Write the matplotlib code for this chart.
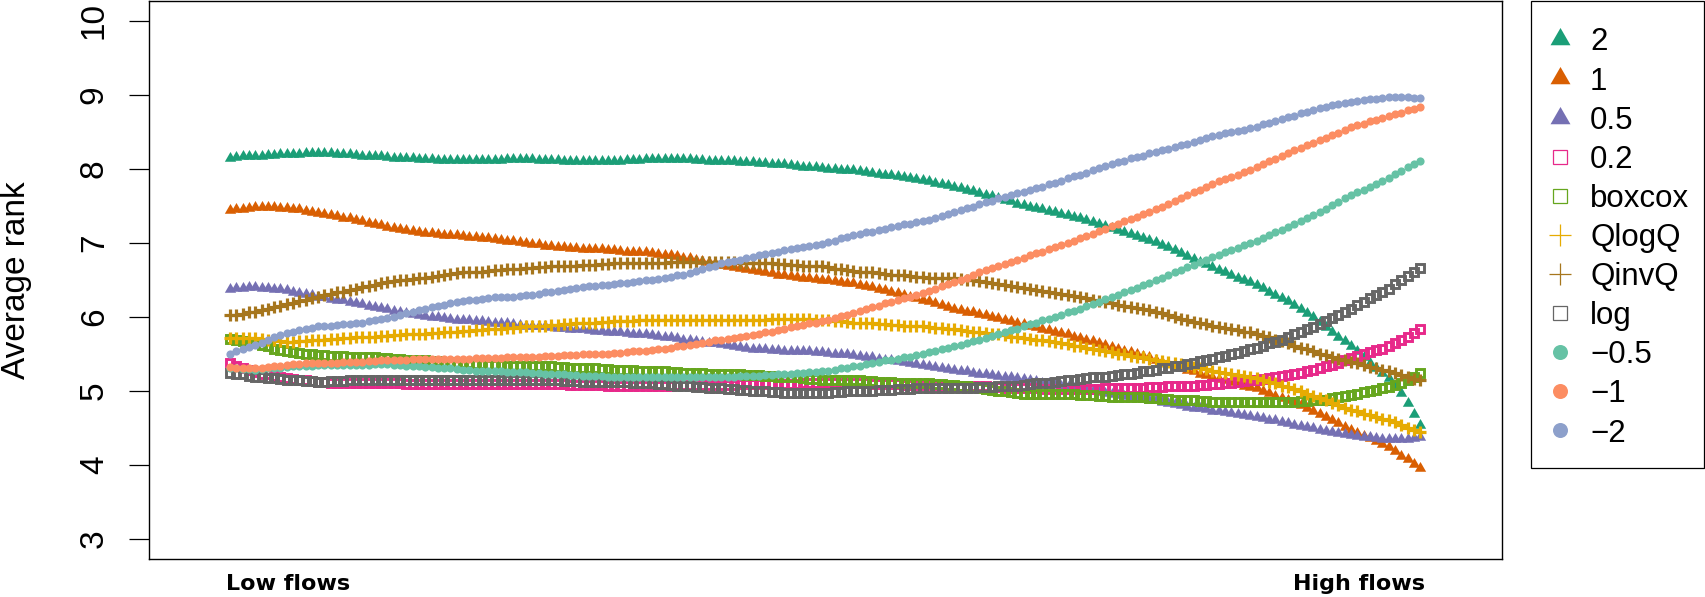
import numpy as np
import matplotlib
matplotlib.use("Agg")
import matplotlib.pyplot as plt
from matplotlib.lines import Line2D
from matplotlib.patches import Rectangle

# average rank of each transformation along the flow range
# (index 0 = low flows ... last index = high flows)
rank_2 = [
    8.15, 8.16, 8.17, 8.17, 8.18, 8.18, 8.19, 8.19, 8.20, 8.20,
    8.20, 8.20, 8.21, 8.21, 8.21, 8.21, 8.21, 8.20, 8.20, 8.20, 8.19,
    8.18, 8.18, 8.17, 8.17, 8.16, 8.15, 8.15, 8.14, 8.14, 8.13,
    8.13, 8.13, 8.12, 8.12, 8.12, 8.12, 8.12, 8.12, 8.12, 8.12, 8.12,
    8.12, 8.12, 8.13, 8.13, 8.13, 8.13, 8.13, 8.12, 8.12, 8.12,
    8.12, 8.11, 8.11, 8.11, 8.10, 8.10, 8.10, 8.10, 8.11, 8.11, 8.11,
    8.12, 8.12, 8.12, 8.13, 8.13, 8.13, 8.13, 8.13, 8.13, 8.13, 8.13,
    8.12, 8.12, 8.11, 8.11, 8.10, 8.10, 8.10, 8.09, 8.09, 8.09,
    8.08, 8.08, 8.07, 8.07, 8.06, 8.05, 8.04, 8.03, 8.03, 8.02, 8.01,
    8.00, 8.00, 7.99, 7.98, 7.98, 7.97, 7.96, 7.95, 7.93, 7.92,
    7.91, 7.90, 7.89, 7.87, 7.86, 7.85, 7.83, 7.81, 7.80, 7.78, 7.76,
    7.74, 7.72, 7.70, 7.67, 7.65, 7.63, 7.60, 7.58, 7.56, 7.53, 7.51,
    7.49, 7.47, 7.45, 7.43, 7.41, 7.39, 7.37, 7.35, 7.33, 7.31,
    7.28, 7.25, 7.23, 7.20, 7.17, 7.14, 7.12, 7.09, 7.06, 7.04, 7.01,
    6.97, 6.94, 6.90, 6.86, 6.82, 6.78, 6.74, 6.71, 6.67, 6.63,
    6.60, 6.57, 6.53, 6.50, 6.47, 6.43, 6.39, 6.34, 6.30, 6.25, 6.21,
    6.16, 6.10, 6.05, 5.99, 5.93, 5.86, 5.80, 5.73, 5.67, 5.60,
    5.53, 5.45, 5.38, 5.31, 5.24, 5.17, 5.07, 4.97, 4.83, 4.69, 4.54,
]
rank_1 = [
    7.44, 7.45, 7.46, 7.47, 7.48, 7.48, 7.48, 7.48, 7.47, 7.47,
    7.46, 7.45, 7.43, 7.42, 7.40, 7.39, 7.37, 7.36, 7.34, 7.33, 7.31,
    7.29, 7.27, 7.26, 7.24, 7.22, 7.20, 7.19, 7.17, 7.16, 7.14,
    7.13, 7.13, 7.12, 7.11, 7.11, 7.10, 7.09, 7.08, 7.08, 7.07, 7.06,
    7.05, 7.04, 7.03, 7.02, 7.01, 7.00, 6.99, 6.98, 6.96, 6.95,
    6.94, 6.94, 6.93, 6.93, 6.92, 6.92, 6.91, 6.91, 6.90, 6.90, 6.89,
    6.88, 6.88, 6.87, 6.87, 6.86, 6.85, 6.84, 6.83, 6.82, 6.80, 6.79,
    6.77, 6.75, 6.74, 6.72, 6.70, 6.69, 6.67, 6.66, 6.64, 6.63,
    6.62, 6.60, 6.59, 6.57, 6.56, 6.55, 6.54, 6.53, 6.52, 6.51, 6.50,
    6.49, 6.48, 6.47, 6.46, 6.45, 6.43, 6.41, 6.40, 6.38, 6.36,
    6.34, 6.32, 6.30, 6.27, 6.25, 6.23, 6.21, 6.18, 6.16, 6.13, 6.11,
    6.09, 6.07, 6.06, 6.04, 6.02, 6.00, 5.98, 5.96, 5.94, 5.92, 5.90,
    5.88, 5.86, 5.84, 5.82, 5.80, 5.78, 5.76, 5.73, 5.71, 5.69,
    5.67, 5.64, 5.62, 5.59, 5.57, 5.54, 5.52, 5.50, 5.47, 5.45, 5.42,
    5.39, 5.36, 5.34, 5.31, 5.28, 5.26, 5.23, 5.21, 5.18, 5.16,
    5.14, 5.12, 5.09, 5.07, 5.05, 5.03, 5.00, 4.97, 4.93, 4.90, 4.87,
    4.83, 4.80, 4.76, 4.73, 4.69, 4.65, 4.60, 4.56, 4.51, 4.47,
    4.43, 4.39, 4.36, 4.32, 4.28, 4.24, 4.18, 4.12, 4.07, 4.01, 3.95,
]
rank_05 = [
    6.38, 6.39, 6.39, 6.40, 6.40, 6.39, 6.39, 6.38, 6.37, 6.36,
    6.34, 6.32, 6.31, 6.29, 6.27, 6.26, 6.24, 6.23, 6.22, 6.20, 6.19,
    6.17, 6.15, 6.13, 6.12, 6.10, 6.08, 6.07, 6.05, 6.04, 6.02,
    6.01, 6.00, 5.99, 5.98, 5.97, 5.96, 5.95, 5.95, 5.94, 5.94, 5.93,
    5.92, 5.91, 5.91, 5.90, 5.89, 5.88, 5.88, 5.87, 5.87, 5.86,
    5.85, 5.85, 5.84, 5.83, 5.83, 5.82, 5.81, 5.81, 5.80, 5.80, 5.79,
    5.78, 5.77, 5.77, 5.76, 5.75, 5.74, 5.73, 5.72, 5.71, 5.69, 5.68,
    5.67, 5.66, 5.65, 5.64, 5.63, 5.62, 5.61, 5.59, 5.58, 5.57,
    5.56, 5.56, 5.55, 5.55, 5.54, 5.54, 5.53, 5.53, 5.53, 5.52, 5.52,
    5.51, 5.50, 5.50, 5.49, 5.48, 5.47, 5.46, 5.45, 5.43, 5.42,
    5.41, 5.40, 5.39, 5.37, 5.36, 5.35, 5.34, 5.32, 5.31, 5.29, 5.28,
    5.27, 5.26, 5.24, 5.23, 5.22, 5.21, 5.20, 5.19, 5.18, 5.17, 5.16,
    5.14, 5.13, 5.11, 5.10, 5.08, 5.07, 5.05, 5.04, 5.02, 5.01,
    5.00, 4.98, 4.97, 4.95, 4.94, 4.93, 4.92, 4.91, 4.89, 4.88, 4.87,
    4.85, 4.83, 4.82, 4.80, 4.78, 4.77, 4.76, 4.75, 4.73, 4.72,
    4.71, 4.70, 4.69, 4.67, 4.66, 4.65, 4.63, 4.61, 4.60, 4.58, 4.56,
    4.54, 4.52, 4.51, 4.49, 4.47, 4.46, 4.44, 4.43, 4.41, 4.40,
    4.39, 4.38, 4.37, 4.36, 4.35, 4.34, 4.34, 4.34, 4.35, 4.36, 4.37,
]
rank_02 = [
    5.37, 5.34, 5.31, 5.28, 5.25, 5.23, 5.22, 5.20, 5.19, 5.17,
    5.16, 5.15, 5.14, 5.13, 5.12, 5.12, 5.11, 5.11, 5.11, 5.10, 5.10,
    5.10, 5.10, 5.10, 5.10, 5.10, 5.10, 5.10, 5.09, 5.09, 5.09,
    5.09, 5.09, 5.09, 5.09, 5.09, 5.09, 5.09, 5.09, 5.09, 5.09, 5.09,
    5.09, 5.09, 5.09, 5.09, 5.09, 5.09, 5.09, 5.09, 5.09, 5.09,
    5.09, 5.09, 5.08, 5.08, 5.08, 5.08, 5.08, 5.08, 5.07, 5.07, 5.07,
    5.07, 5.07, 5.07, 5.07, 5.07, 5.07, 5.07, 5.07, 5.08, 5.08, 5.08,
    5.08, 5.08, 5.08, 5.08, 5.08, 5.08, 5.08, 5.09, 5.09, 5.09,
    5.09, 5.09, 5.09, 5.09, 5.09, 5.09, 5.09, 5.10, 5.10, 5.10, 5.10,
    5.10, 5.10, 5.10, 5.10, 5.10, 5.10, 5.10, 5.09, 5.09, 5.09,
    5.09, 5.09, 5.08, 5.08, 5.08, 5.08, 5.08, 5.08, 5.07, 5.07, 5.07,
    5.07, 5.07, 5.06, 5.06, 5.06, 5.05, 5.05, 5.04, 5.04, 5.03, 5.03,
    5.03, 5.03, 5.02, 5.02, 5.02, 5.02, 5.02, 5.02, 5.02, 5.02,
    5.02, 5.02, 5.03, 5.03, 5.03, 5.03, 5.04, 5.04, 5.04, 5.05, 5.05,
    5.05, 5.06, 5.06, 5.07, 5.07, 5.07, 5.08, 5.08, 5.09, 5.09,
    5.10, 5.11, 5.12, 5.13, 5.14, 5.15, 5.16, 5.17, 5.18, 5.20, 5.21,
    5.23, 5.24, 5.26, 5.28, 5.30, 5.33, 5.35, 5.38, 5.41, 5.44,
    5.47, 5.49, 5.52, 5.55, 5.57, 5.60, 5.64, 5.69, 5.73, 5.78, 5.83,
]
rank_boxcox = [
    5.70, 5.69, 5.67, 5.66, 5.64, 5.62, 5.60, 5.57, 5.55, 5.53,
    5.52, 5.51, 5.50, 5.49, 5.48, 5.48, 5.47, 5.47, 5.47, 5.46, 5.46,
    5.46, 5.45, 5.45, 5.44, 5.44, 5.43, 5.43, 5.42, 5.42, 5.41,
    5.41, 5.40, 5.40, 5.39, 5.39, 5.38, 5.37, 5.37, 5.36, 5.36, 5.35,
    5.35, 5.35, 5.34, 5.34, 5.34, 5.34, 5.34, 5.33, 5.33, 5.33,
    5.32, 5.32, 5.31, 5.31, 5.30, 5.30, 5.30, 5.29, 5.29, 5.28, 5.28,
    5.28, 5.28, 5.27, 5.27, 5.27, 5.26, 5.26, 5.25, 5.25, 5.24, 5.24,
    5.24, 5.24, 5.23, 5.23, 5.23, 5.23, 5.22, 5.22, 5.21, 5.21,
    5.21, 5.20, 5.20, 5.19, 5.19, 5.18, 5.18, 5.17, 5.16, 5.16, 5.15,
    5.15, 5.15, 5.14, 5.14, 5.14, 5.14, 5.13, 5.13, 5.12, 5.12,
    5.12, 5.11, 5.11, 5.11, 5.10, 5.10, 5.10, 5.09, 5.09, 5.08, 5.08,
    5.07, 5.06, 5.05, 5.03, 5.02, 5.01, 5.00, 4.99, 4.98, 4.97, 4.96,
    4.96, 4.96, 4.96, 4.96, 4.96, 4.96, 4.95, 4.95, 4.94, 4.94,
    4.94, 4.93, 4.93, 4.92, 4.92, 4.92, 4.91, 4.91, 4.91, 4.90, 4.90,
    4.89, 4.89, 4.88, 4.88, 4.87, 4.87, 4.86, 4.86, 4.85, 4.85,
    4.85, 4.85, 4.85, 4.85, 4.85, 4.85, 4.85, 4.85, 4.85, 4.85, 4.85,
    4.85, 4.86, 4.86, 4.87, 4.87, 4.88, 4.90, 4.91, 4.93, 4.94,
    4.96, 4.98, 4.99, 5.01, 5.03, 5.05, 5.08, 5.11, 5.15, 5.19, 5.24,
]
rank_qlogq = [
    5.71, 5.71, 5.71, 5.71, 5.71, 5.70, 5.69, 5.68, 5.67, 5.66,
    5.66, 5.67, 5.67, 5.68, 5.68, 5.69, 5.70, 5.70, 5.71, 5.71, 5.72,
    5.72, 5.73, 5.73, 5.74, 5.74, 5.75, 5.75, 5.76, 5.76, 5.77,
    5.77, 5.78, 5.78, 5.79, 5.79, 5.80, 5.81, 5.81, 5.82, 5.82, 5.83,
    5.84, 5.84, 5.85, 5.85, 5.86, 5.87, 5.87, 5.88, 5.88, 5.89,
    5.89, 5.90, 5.90, 5.91, 5.91, 5.92, 5.92, 5.93, 5.93, 5.94, 5.94,
    5.94, 5.94, 5.95, 5.95, 5.95, 5.95, 5.95, 5.95, 5.96, 5.96, 5.96,
    5.96, 5.96, 5.96, 5.96, 5.96, 5.96, 5.96, 5.96, 5.96, 5.96,
    5.96, 5.96, 5.97, 5.97, 5.97, 5.97, 5.97, 5.97, 5.97, 5.96, 5.96,
    5.95, 5.94, 5.94, 5.93, 5.92, 5.92, 5.91, 5.91, 5.90, 5.90,
    5.89, 5.89, 5.88, 5.88, 5.87, 5.87, 5.86, 5.85, 5.85, 5.84, 5.83,
    5.82, 5.81, 5.80, 5.79, 5.78, 5.77, 5.76, 5.75, 5.73, 5.72, 5.71,
    5.70, 5.69, 5.68, 5.67, 5.66, 5.64, 5.63, 5.61, 5.60, 5.58,
    5.56, 5.55, 5.53, 5.52, 5.50, 5.49, 5.47, 5.46, 5.45, 5.43, 5.42,
    5.40, 5.39, 5.37, 5.36, 5.34, 5.32, 5.30, 5.29, 5.27, 5.25,
    5.24, 5.22, 5.21, 5.20, 5.18, 5.17, 5.15, 5.12, 5.10, 5.07, 5.05,
    5.02, 4.99, 4.96, 4.93, 4.90, 4.87, 4.84, 4.80, 4.77, 4.74,
    4.72, 4.69, 4.67, 4.65, 4.62, 4.60, 4.57, 4.54, 4.50, 4.47, 4.44,
]
rank_qinvq = [
    6.02, 6.03, 6.04, 6.06, 6.07, 6.09, 6.11, 6.13, 6.15, 6.17,
    6.19, 6.21, 6.23, 6.25, 6.27, 6.29, 6.31, 6.33, 6.34, 6.36, 6.38,
    6.40, 6.42, 6.43, 6.45, 6.47, 6.48, 6.49, 6.50, 6.51, 6.52,
    6.53, 6.54, 6.55, 6.57, 6.58, 6.59, 6.60, 6.60, 6.61, 6.61, 6.62,
    6.63, 6.63, 6.64, 6.64, 6.65, 6.66, 6.66, 6.67, 6.67, 6.68,
    6.68, 6.69, 6.69, 6.69, 6.70, 6.70, 6.70, 6.71, 6.71, 6.72, 6.72,
    6.72, 6.72, 6.73, 6.73, 6.73, 6.73, 6.73, 6.74, 6.74, 6.74, 6.74,
    6.74, 6.74, 6.74, 6.74, 6.74, 6.74, 6.74, 6.73, 6.73, 6.73,
    6.73, 6.72, 6.72, 6.71, 6.71, 6.70, 6.70, 6.69, 6.69, 6.68, 6.68,
    6.67, 6.65, 6.64, 6.63, 6.62, 6.61, 6.60, 6.60, 6.59, 6.58,
    6.57, 6.56, 6.56, 6.55, 6.54, 6.54, 6.53, 6.53, 6.53, 6.52, 6.52,
    6.51, 6.50, 6.49, 6.48, 6.47, 6.46, 6.44, 6.43, 6.42, 6.40, 6.39,
    6.38, 6.36, 6.35, 6.33, 6.32, 6.31, 6.29, 6.28, 6.26, 6.25,
    6.23, 6.21, 6.20, 6.18, 6.16, 6.15, 6.13, 6.12, 6.10, 6.09, 6.07,
    6.05, 6.02, 6.00, 5.97, 5.95, 5.93, 5.91, 5.90, 5.88, 5.86,
    5.85, 5.83, 5.82, 5.80, 5.79, 5.77, 5.74, 5.72, 5.69, 5.67, 5.64,
    5.61, 5.58, 5.56, 5.53, 5.50, 5.48, 5.46, 5.43, 5.41, 5.39,
    5.37, 5.35, 5.32, 5.30, 5.28, 5.26, 5.24, 5.21, 5.19, 5.16, 5.14,
]
rank_log = [
    5.24, 5.23, 5.22, 5.20, 5.19, 5.18, 5.17, 5.17, 5.16, 5.15,
    5.14, 5.14, 5.13, 5.13, 5.12, 5.12, 5.13, 5.13, 5.13, 5.14, 5.14,
    5.14, 5.14, 5.15, 5.15, 5.15, 5.15, 5.15, 5.15, 5.15, 5.15,
    5.15, 5.15, 5.15, 5.15, 5.15, 5.15, 5.15, 5.15, 5.15, 5.15, 5.15,
    5.15, 5.15, 5.15, 5.15, 5.15, 5.15, 5.15, 5.14, 5.14, 5.14,
    5.14, 5.13, 5.13, 5.13, 5.12, 5.12, 5.12, 5.12, 5.12, 5.12, 5.12,
    5.12, 5.11, 5.11, 5.10, 5.10, 5.09, 5.09, 5.08, 5.07, 5.07, 5.06,
    5.05, 5.05, 5.04, 5.04, 5.03, 5.02, 5.02, 5.01, 5.01, 5.00,
    4.99, 4.99, 4.98, 4.98, 4.97, 4.97, 4.97, 4.97, 4.97, 4.97, 4.97,
    4.97, 4.98, 4.98, 4.99, 4.99, 4.99, 5.00, 5.00, 5.01, 5.01,
    5.01, 5.02, 5.02, 5.02, 5.03, 5.03, 5.03, 5.03, 5.03, 5.03, 5.03,
    5.03, 5.04, 5.04, 5.05, 5.05, 5.05, 5.06, 5.06, 5.07, 5.07, 5.08,
    5.09, 5.10, 5.10, 5.11, 5.12, 5.13, 5.14, 5.15, 5.16, 5.17,
    5.18, 5.19, 5.19, 5.20, 5.21, 5.22, 5.23, 5.24, 5.26, 5.27, 5.28,
    5.30, 5.31, 5.33, 5.34, 5.36, 5.38, 5.40, 5.41, 5.43, 5.45,
    5.47, 5.49, 5.51, 5.54, 5.56, 5.58, 5.61, 5.64, 5.66, 5.69, 5.72,
    5.76, 5.79, 5.83, 5.86, 5.90, 5.94, 5.98, 6.03, 6.07, 6.11,
    6.16, 6.20, 6.25, 6.29, 6.34, 6.38, 6.44, 6.49, 6.55, 6.60, 6.66,
]
rank_m05 = [
    5.30, 5.30, 5.29, 5.29, 5.28, 5.29, 5.30, 5.30, 5.31, 5.32,
    5.33, 5.33, 5.34, 5.34, 5.35, 5.35, 5.35, 5.35, 5.35, 5.35, 5.35,
    5.35, 5.35, 5.36, 5.36, 5.36, 5.35, 5.35, 5.34, 5.34, 5.33,
    5.32, 5.32, 5.31, 5.30, 5.30, 5.29, 5.28, 5.28, 5.27, 5.27, 5.26,
    5.26, 5.26, 5.25, 5.25, 5.25, 5.25, 5.24, 5.24, 5.23, 5.23,
    5.22, 5.22, 5.21, 5.21, 5.20, 5.20, 5.20, 5.20, 5.19, 5.19, 5.19,
    5.19, 5.19, 5.19, 5.19, 5.19, 5.19, 5.19, 5.19, 5.19, 5.19, 5.19,
    5.19, 5.19, 5.19, 5.19, 5.19, 5.19, 5.19, 5.20, 5.20, 5.20,
    5.20, 5.21, 5.21, 5.22, 5.22, 5.23, 5.24, 5.24, 5.25, 5.25, 5.26,
    5.27, 5.28, 5.30, 5.31, 5.33, 5.34, 5.36, 5.37, 5.39, 5.41,
    5.42, 5.43, 5.45, 5.46, 5.48, 5.50, 5.52, 5.54, 5.56, 5.58, 5.60,
    5.62, 5.64, 5.67, 5.69, 5.71, 5.74, 5.76, 5.79, 5.82, 5.84, 5.87,
    5.90, 5.92, 5.95, 5.97, 6.00, 6.03, 6.06, 6.08, 6.11, 6.14,
    6.17, 6.20, 6.24, 6.27, 6.30, 6.33, 6.36, 6.39, 6.43, 6.46, 6.49,
    6.53, 6.56, 6.60, 6.63, 6.67, 6.70, 6.74, 6.77, 6.81, 6.84,
    6.87, 6.90, 6.93, 6.97, 7.00, 7.03, 7.07, 7.10, 7.14, 7.17, 7.21,
    7.25, 7.29, 7.34, 7.38, 7.42, 7.46, 7.51, 7.55, 7.60, 7.64,
    7.68, 7.72, 7.76, 7.80, 7.84, 7.88, 7.93, 7.97, 8.02, 8.06, 8.11,
]
rank_m1 = [
    5.32, 5.31, 5.31, 5.30, 5.30, 5.31, 5.32, 5.33, 5.34, 5.35,
    5.36, 5.36, 5.37, 5.37, 5.38, 5.38, 5.38, 5.38, 5.39, 5.39, 5.39,
    5.39, 5.40, 5.40, 5.41, 5.41, 5.41, 5.42, 5.42, 5.43, 5.43,
    5.43, 5.43, 5.43, 5.43, 5.43, 5.43, 5.43, 5.43, 5.44, 5.44, 5.44,
    5.44, 5.44, 5.45, 5.45, 5.45, 5.45, 5.46, 5.46, 5.47, 5.47,
    5.47, 5.48, 5.48, 5.48, 5.49, 5.49, 5.49, 5.50, 5.50, 5.51, 5.51,
    5.52, 5.53, 5.53, 5.54, 5.55, 5.56, 5.57, 5.58, 5.60, 5.61, 5.62,
    5.63, 5.65, 5.66, 5.68, 5.69, 5.70, 5.71, 5.72, 5.74, 5.75,
    5.77, 5.79, 5.80, 5.82, 5.84, 5.86, 5.87, 5.89, 5.91, 5.92, 5.94,
    5.96, 5.98, 6.01, 6.03, 6.05, 6.08, 6.10, 6.13, 6.15, 6.18,
    6.20, 6.22, 6.25, 6.27, 6.30, 6.32, 6.35, 6.38, 6.41, 6.44, 6.47,
    6.50, 6.53, 6.57, 6.60, 6.63, 6.66, 6.69, 6.71, 6.74, 6.77, 6.80,
    6.83, 6.86, 6.88, 6.91, 6.94, 6.97, 7.00, 7.03, 7.06, 7.09,
    7.12, 7.16, 7.19, 7.23, 7.26, 7.29, 7.32, 7.35, 7.39, 7.42, 7.45,
    7.49, 7.53, 7.56, 7.60, 7.64, 7.68, 7.72, 7.75, 7.79, 7.83,
    7.86, 7.89, 7.92, 7.96, 7.99, 8.02, 8.06, 8.10, 8.13, 8.17, 8.21,
    8.25, 8.28, 8.32, 8.35, 8.39, 8.42, 8.46, 8.49, 8.53, 8.56,
    8.59, 8.61, 8.64, 8.66, 8.69, 8.71, 8.74, 8.76, 8.79, 8.81, 8.84,
]
rank_m2 = [
    5.50, 5.53, 5.56, 5.59, 5.62, 5.65, 5.69, 5.72, 5.75, 5.78,
    5.80, 5.82, 5.83, 5.85, 5.87, 5.88, 5.88, 5.89, 5.90, 5.90, 5.91,
    5.92, 5.94, 5.95, 5.97, 5.98, 6.00, 6.02, 6.05, 6.07, 6.09,
    6.11, 6.13, 6.15, 6.16, 6.18, 6.20, 6.21, 6.22, 6.23, 6.24, 6.25,
    6.26, 6.26, 6.27, 6.27, 6.28, 6.29, 6.30, 6.31, 6.33, 6.34,
    6.35, 6.36, 6.38, 6.39, 6.40, 6.41, 6.42, 6.43, 6.43, 6.44, 6.45,
    6.46, 6.47, 6.48, 6.49, 6.50, 6.51, 6.53, 6.54, 6.56, 6.57, 6.59,
    6.62, 6.64, 6.67, 6.69, 6.72, 6.74, 6.76, 6.77, 6.79, 6.81,
    6.83, 6.85, 6.86, 6.88, 6.90, 6.91, 6.93, 6.94, 6.96, 6.97, 6.99,
    7.01, 7.03, 7.06, 7.08, 7.10, 7.12, 7.14, 7.15, 7.17, 7.19,
    7.21, 7.23, 7.25, 7.26, 7.28, 7.29, 7.31, 7.34, 7.36, 7.39, 7.41,
    7.44, 7.47, 7.49, 7.52, 7.55, 7.57, 7.60, 7.62, 7.64, 7.67, 7.69,
    7.71, 7.74, 7.76, 7.79, 7.81, 7.84, 7.87, 7.90, 7.92, 7.95,
    7.98, 8.01, 8.04, 8.06, 8.09, 8.11, 8.14, 8.16, 8.18, 8.21, 8.23,
    8.25, 8.27, 8.30, 8.32, 8.34, 8.36, 8.39, 8.41, 8.44, 8.46,
    8.48, 8.50, 8.51, 8.53, 8.55, 8.57, 8.60, 8.62, 8.65, 8.67, 8.70,
    8.72, 8.75, 8.77, 8.80, 8.82, 8.84, 8.86, 8.87, 8.89, 8.91,
    8.92, 8.93, 8.94, 8.95, 8.96, 8.97, 8.97, 8.97, 8.97, 8.96, 8.96,
]

series = [rank_2, rank_1, rank_05, rank_02, rank_boxcox, rank_qlogq,
          rank_qinvq, rank_log, rank_m05, rank_m1, rank_m2]
labels = ["2", "1", "0.5", "0.2", "boxcox", "QlogQ", "QinvQ", "log",
          "\u22120.5", "\u22121", "\u22122"]
colors = ["#1B9E77", "#D95F02", "#7570B3", "#E7298A", "#66A61E", "#E6AB02",
          "#A6761D", "#666666", "#66C2A5", "#FC8D62", "#8DA0CB"]
kinds = ["tri", "tri", "tri", "sq", "sq", "plus", "plus", "sq",
         "dot", "dot", "dot"]
yticks = [3, 4, 5, 6, 7, 8, 9, 10]

W, H = 1705, 597
plt.rcParams["font.family"] = ["Liberation Sans", "DejaVu Sans"]

# equilateral triangle centred on its centroid (like R's pch 17)
tri = [(0, 1.1547), (-1, -0.57735), (1, -0.57735)]
# kind -> marker, plot size, plot edge width, legend size, legend edge width, filled
style = {
    "tri":  (tri, 9.4, 0.0, 16.6, 0.0, True),
    "sq":   ("s", 5.7, 2.1, 10.0, 0.9, False),
    "plus": ("+", 9.2, 2.3, 15.8, 0.9, False),
    "dot":  ("o", 5.9, 0.0, 10.8, 0.0, True),
}

fig = plt.figure(figsize=(W / 100, H / 100), dpi=100)
ax = fig.add_axes([149.3 / W, 1 - 559 / H, (1501.5 - 149.3) / W, (559 - 0.5) / H])

for vals, col, kind in zip(series, colors, kinds):
    mk, ms, mew, _, _, filled = style[kind]
    ax.plot(np.arange(len(vals)), vals, linestyle="none", marker=mk, ms=ms,
            mew=mew, mec=col, mfc=col if filled else "none", clip_on=False)

ax.set_xlim(-12.82, 201.9)
ax.set_ylim(2.724, 10.276)
ax.set_xticks([])
ax.set_yticks(yticks, labels=[str(t) for t in yticks], rotation=90, va="center")
ax.tick_params(axis="y", length=14.4, width=0.9, pad=14, labelsize=24)
for sp in ax.spines.values():
    sp.set_linewidth(1.0)

fig.text(25.5 / W, 1 - 279.7 / H, "Average rank", fontsize=24, rotation=90,
         rotation_mode="anchor", ha="center", va="baseline")

bold = dict(fontsize=16, fontweight="bold", family="DejaVu Sans", va="baseline")
fig.text(226 / W, 1 - 590 / H, "Low flows", ha="left", **bold)
fig.text(1425 / W, 1 - 590 / H, "High flows", ha="right", **bold)

# legend box to the right of the plot
fig.add_artist(Rectangle((1530.5 / W, 1 - 468 / H), (1703.5 - 1530.5) / W,
                         (468 - 0.7) / H, transform=fig.transFigure,
                         fill=False, ec="black", lw=0.9))
for k, (lab, col, kind) in enumerate(zip(labels, colors, kinds)):
    mk, _, _, lms, lmew, filled = style[kind]
    yc = 39.3 + 39.1 * k
    fig.add_artist(Line2D([1560 / W], [1 - yc / H], transform=fig.transFigure,
                          linestyle="none", marker=mk, ms=lms, mew=lmew,
                          mec=col, mfc=col if filled else "none"))
    fig.text(1590 / W, 1 - (yc + 11.2) / H, lab, fontsize=22.5, va="baseline")

fig.savefig("out.png", dpi=100, facecolor="white")
